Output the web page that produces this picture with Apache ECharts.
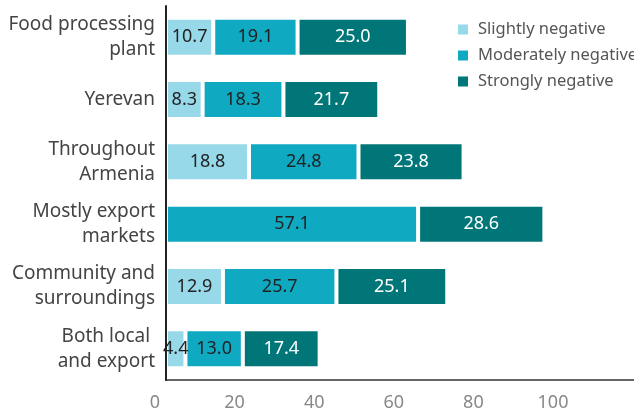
<!DOCTYPE html>
<html>
<head>
<meta charset="utf-8">
<script src="https://cdn.jsdelivr.net/npm/echarts@6/dist/echarts.min.js"></script>
<style>
  html, body { margin: 0; padding: 0; background: #fff; }
  #chart { width: 634px; height: 414px; }
</style>
</head>
<body>
<div id="chart"></div>
<script>
// categories, top to bottom
const categories = [
  'Food processing\nplant',
  'Yerevan',
  'Throughout\nArmenia',
  'Mostly export\nmarkets',
  'Community and\nsurroundings',
  'Both local \nand export'
]
const seriesNames = ['Slightly negative', 'Moderately negative', 'Strongly negative']
const slightly = [10.7, 8.3, 18.8, null, 12.9, 4.4]
const moderately = [19.1, 18.3, 24.8, 57.1, 25.7, 13.0]
const strongly = [25.0, 21.7, 23.8, 28.6, 25.1, 17.4]
const xTicks = [0, 20, 40, 60, 80, 100]

const colors = ['#97d8e9', '#0fa9c2', '#007679']
const labelColors = ['#222', '#222', '#fff']
const FONT = 'Noto Sans'

const chart = echarts.init(document.getElementById('chart'), null, { renderer: 'canvas' })

const mkSeries = (name, data, i) => ({
  name,
  type: 'bar',
  stack: 'total',
  data,
  barWidth: 39,
  itemStyle: { color: colors[i], borderColor: '#fff', borderWidth: 2 },
  label: {
    show: true,
    position: 'inside',
    formatter: p => p.value.toFixed(1),
    color: labelColors[i],
    fontFamily: FONT,
    fontSize: 18
  }
})

chart.setOption({
  animation: false,
  backgroundColor: '#fff',
  grid: [
    { left: 166, right: 0, top: 6, bottom: 34 },
    // separate grid only to place the tick labels
    { left: 155, width: 398, top: 6, bottom: 34 }
  ],
  legend: {
    orient: 'vertical',
    left: 451,
    top: 16,
    itemWidth: 12,
    itemHeight: 12,
    itemGap: 9,
    icon: 'rect',
    textStyle: { fontFamily: FONT, fontSize: 16.5, color: '#555', padding: [0, 0, 0, 4] },
    data: seriesNames
  },
  xAxis: [
    {
      gridIndex: 0,
      type: 'value',
      min: 0,
      max: 106,
      axisLine: { show: true, lineStyle: { color: '#666', width: 2 } },
      axisTick: { show: false },
      axisLabel: { show: false },
      splitLine: { show: false }
    },
    {
      gridIndex: 1,
      type: 'value',
      min: 0,
      max: 100,
      interval: 20,
      axisLine: { show: false },
      axisTick: { show: false },
      splitLine: { show: false },
      axisLabel: {
        customValues: xTicks,
        margin: 14,
        fontFamily: FONT,
        fontSize: 18,
        color: '#888'
      }
    }
  ],
  yAxis: [
    {
      gridIndex: 0,
      type: 'category',
      data: categories,
      inverse: true,
      z: 5,
      axisLine: { show: true, lineStyle: { color: '#222', width: 2 } },
      axisTick: { show: false },
      axisLabel: {
        margin: 11,
        fontFamily: FONT,
        fontSize: 19,
        lineHeight: 25,
        color: '#444',
        align: 'right'
      }
    },
    {
      gridIndex: 1,
      type: 'value',
      show: false
    }
  ],
  series: [
    mkSeries(seriesNames[0], slightly, 0),
    mkSeries(seriesNames[1], moderately, 1),
    mkSeries(seriesNames[2], strongly, 2)
  ]
})
</script>
</body>
</html>
